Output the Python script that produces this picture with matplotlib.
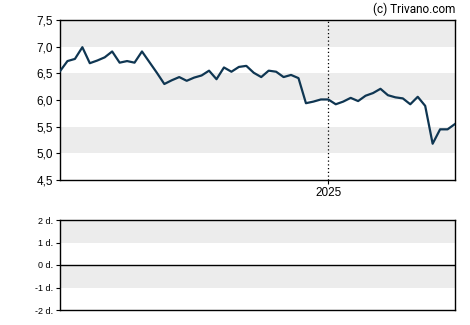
import matplotlib.pyplot as plt
import pandas as pd

# weekly closes
prices = [
    6.54, 6.73, 6.77, 6.99, 6.69, 6.74, 6.80, 6.91, 6.70, 6.73,
    6.70, 6.91, 6.71, 6.51, 6.30, 6.37, 6.43, 6.36, 6.42, 6.46,
    6.55, 6.39, 6.61, 6.53, 6.62, 6.64, 6.51, 6.43, 6.55, 6.53,
    6.43, 6.47, 6.41, 5.94, 5.97, 6.01, 6.01, 5.92, 5.97, 6.04,
    5.98, 6.08, 6.13, 6.21, 6.09, 6.05, 6.03, 5.92, 6.06, 5.89,
    5.18, 5.45, 5.45, 5.55,
]
dates = pd.date_range("2024-04-24", periods=len(prices), freq="7D")
year_mark = pd.Timestamp("2025-01-01")
year_label = "2025"

price_ticks = [4.5, 5.0, 5.5, 6.0, 6.5, 7.0, 7.5]
price_bands = [(5.0, 5.5), (6.0, 6.5), (7.0, 7.5)]
lower_ticks = [-2, -1, 0, 1, 2]
lower_labels = ["-2 d.", "-1 d.", "0 d.", "1 d.", "2 d."]
lower_bands = [(-1, 0), (1, 2)]

plt.rcParams["font.family"] = ["Liberation Sans", "DejaVu Sans"]
line_color = "#0f3652"
band_color = "#ececec"

fig = plt.figure(figsize=(4.7, 3.25), dpi=100)
ax = fig.add_axes([60 / 470, 1 - 180 / 325, 395 / 470, 160 / 325])
ax2 = fig.add_axes([60 / 470, 1 - 310 / 325, 395 / 470, 90 / 325])

for lo, hi in price_bands:
    ax.axhspan(lo, hi, color=band_color, lw=0, zorder=0)
ax.axvline(year_mark, color="black", lw=0.9, ls=(0, (1, 2)), zorder=1)
ax.plot(dates, prices, color=line_color, lw=1.6, zorder=3)
ax.set_xlim(dates[0], dates[-1])
ax.set_ylim(4.5, 7.5)
ax.set_yticks(price_ticks)
ax.set_yticklabels([f"{t:.1f}".replace(".", ",") for t in price_ticks], fontsize=8.5)
ax.set_xticks([year_mark])
ax.set_xticklabels([year_label], fontsize=8.5)
ax.tick_params(axis="both", length=3, width=0.8, pad=2)

for lo, hi in lower_bands:
    ax2.axhspan(lo, hi, color=band_color, lw=0, zorder=0)
ax2.axhline(0, color="black", lw=1.0, zorder=2)
ax2.set_xlim(dates[0], dates[-1])
ax2.set_ylim(-2, 2)
ax2.set_yticks(lower_ticks)
ax2.set_yticklabels(lower_labels, fontsize=6.5)
ax2.set_xticks([])
ax2.tick_params(axis="y", length=3, width=0.8, pad=2)

for a in (ax, ax2):
    for s in a.spines.values():
        s.set_linewidth(1.0)

fig.text(455 / 470, 1 - 9 / 325, "(c) Trivano.com", ha="right", va="center",
         fontsize=8.5, family=["Roboto", "DejaVu Sans"])

fig.savefig("out.png", dpi=100)
